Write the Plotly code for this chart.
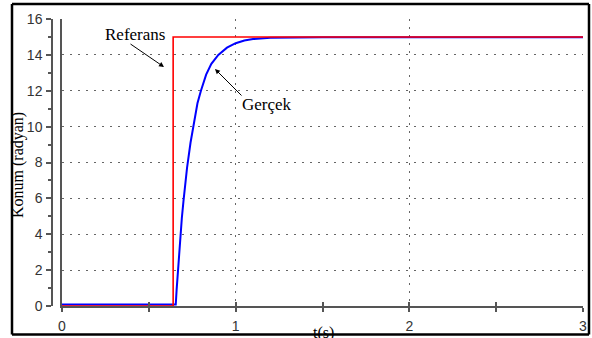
import plotly.graph_objects as go

# ---- data ----
t_ref = [0.0, 0.64, 0.64, 3.0]
y_ref = [0.0, 0.0, 15.0, 15.0]

t_act = [0.0, 0.655, 0.66, 0.67, 0.68, 0.69, 0.70, 0.72, 0.74, 0.76, 0.78,
         0.80, 0.83, 0.86, 0.90, 0.95, 1.00, 1.05, 1.10, 1.20, 1.30, 1.50, 3.0]
y_act = [0.08, 0.08, 0.9, 2.4, 3.7, 4.9, 5.9, 7.7, 9.1, 10.3, 11.3,
         12.0, 12.9, 13.5, 14.0, 14.4, 14.65, 14.8, 14.88, 14.95, 14.97, 14.98, 14.98]

x_ticks = [0, 1, 2, 3]
y_ticks = [0, 2, 4, 6, 8, 10, 12, 14, 16]

W, H = 592, 338
ML, MR, MT, MB = 52, 1, 2, 32
PW = W - ML - MR
PH = H - MT - MB

def px(p):
    return (p - ML) / PW

def py(p):
    return (H - MB - p) / PH

sans = "Liberation Sans, Arial, sans-serif"
serif = "Liberation Serif, Times New Roman, serif"
axc = "#555"

fig = go.Figure()
fig.add_trace(go.Scatter(x=t_act, y=y_act, mode="lines",
                         line=dict(color="#0000ff", width=2),
                         showlegend=False, hoverinfo="skip"))
fig.add_trace(go.Scatter(x=t_ref, y=y_ref, mode="lines",
                         line=dict(color="#ff0000", width=1.6),
                         showlegend=False, hoverinfo="skip"))
# invisible trace carrying the tick axis on the left
fig.add_trace(go.Scatter(x=t_ref, y=y_ref, mode="lines", xaxis="x2", yaxis="y2",
                         line=dict(color="rgba(0,0,0,0)", width=1),
                         showlegend=False, hoverinfo="skip"))

grid_dash = "1.5px,6.5px"
gridc = "#666"
xdom = [px(62), px(583)]
ydom = [py(306), py(19)]
fig.update_layout(
    width=W, height=H,
    margin=dict(l=ML, r=MR, t=MT, b=MB, autoexpand=False),
    paper_bgcolor="white", plot_bgcolor="white",
    xaxis=dict(domain=xdom, range=[0, 3], tickvals=x_ticks, anchor="y",
               ticktext=[str(v) for v in x_ticks], automargin=False,
               showline=True, linecolor=axc, linewidth=1.5,
               ticks="outside", ticklen=4, tickcolor=axc, tickwidth=1.5,
               minor=dict(dtick=0.5, tick0=0, ticks="outside", ticklen=4,
                          tickcolor=axc, tickwidth=1.5, showgrid=False),
               showgrid=True, gridcolor=gridc, gridwidth=1, griddash=grid_dash,
               zeroline=False, tickfont=dict(family=sans, size=14, color="#333"),
               ticklabelstandoff=2, fixedrange=True),
    xaxis2=dict(overlaying="x", matches="x", range=[0, 3], anchor="y",
                automargin=False,
                tickvals=[0, 0.5, 1, 1.5, 2, 2.5, 3], ticks="inside", ticklen=4,
                tickcolor=axc, tickwidth=1.5, showticklabels=False,
                showline=False, showgrid=False, zeroline=False),
    yaxis=dict(domain=ydom, range=[0, 16], tickvals=y_ticks, showticklabels=False,
               ticks="", automargin=False, anchor="x",
               showline=True, linecolor=axc, linewidth=2,
               showgrid=True, gridcolor=gridc, gridwidth=1, griddash=grid_dash,
               zeroline=False, fixedrange=True),
    yaxis2=dict(overlaying="y", anchor="free", position=0, range=[0, 16],
                automargin=False,
                tickvals=y_ticks, ticks="outside", ticklen=5, tickcolor=axc,
                tickwidth=1.5, showline=True, linecolor=axc, linewidth=1.5,
                minor=dict(dtick=1, tick0=0, ticks="outside", ticklen=3,
                           tickcolor=axc, tickwidth=1.5, showgrid=False),
                showgrid=False, zeroline=False,
                tickfont=dict(family=sans, size=14, color="#333"),
                ticklabelstandoff=1),
)

ann = []
ann.append(dict(text="Referans", x=px(135), y=py(35), xref="paper", yref="paper",
                xanchor="center", yanchor="middle", showarrow=False,
                font=dict(family=serif, size=17, color="black")))
ann.append(dict(text="Gerçek", x=px(267), y=py(105), xref="paper", yref="paper",
                xanchor="center", yanchor="middle", showarrow=False,
                font=dict(family=serif, size=17, color="black")))
# arrows (tail offsets in pixels relative to head)
ann.append(dict(text="", x=px(164), y=py(67), xref="paper", yref="paper",
                ax=129 - 164, ay=43 - 67,
                showarrow=True, arrowhead=2, arrowsize=1, arrowwidth=1,
                arrowcolor="black"))
ann.append(dict(text="", x=px(215), y=py(69), xref="paper", yref="paper",
                ax=243 - 215, ay=97 - 69,
                showarrow=True, arrowhead=2, arrowsize=1, arrowwidth=1,
                arrowcolor="black"))
ann.append(dict(text="Konum (radyan)", x=px(18), y=py(165), xref="paper", yref="paper",
                xanchor="center", yanchor="middle", showarrow=False, textangle=-90,
                font=dict(family=serif, size=16, color="black")))
ann.append(dict(text="t(s)", x=px(323), y=py(322), xref="paper", yref="paper",
                xanchor="center", yanchor="top", showarrow=False,
                font=dict(family=serif, size=16, color="black")))
fig.update_layout(annotations=ann)

# outer frame as four lines
L, R, T, B = 12, 589, 4, 334.5
frame = [(L, T, R, T), (R, T, R, B), (L, B, R, B), (L, T, L, B)]
for x0, y0, x1, y1 in frame:
    fig.add_shape(type="line", xref="paper", yref="paper",
                  x0=px(x0), y0=py(y0), x1=px(x1), y1=py(y1),
                  line=dict(color="black", width=2.5), layer="above")

fig.write_html("out.html", config={"displayModeBar": False},
               post_script="document.body.style.margin='0';document.body.style.overflow='hidden';")
